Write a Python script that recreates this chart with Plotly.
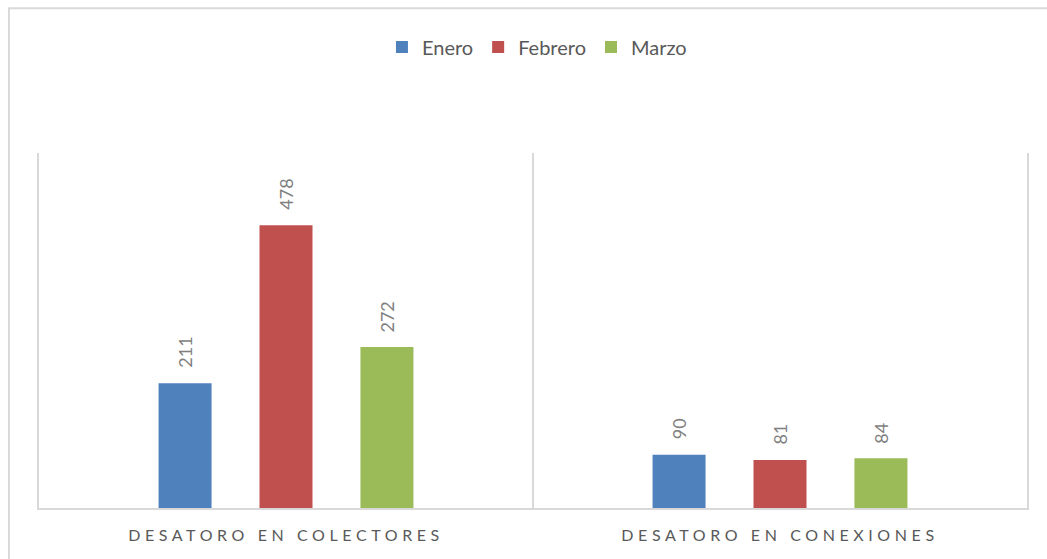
import plotly.graph_objects as go

# Categories and monthly counts
categorias = ["DESATORO EN COLECTORES", "DESATORO EN CONEXIONES"]
meses = ["Enero", "Febrero", "Marzo"]
enero = [211, 90]
febrero = [478, 81]
marzo = [272, 84]
valores = [enero, febrero, marzo]
colores = ["#4F81BD", "#C0504D", "#9BBB59"]

BARGAP = 0.387
BARGROUPGAP = 0.475
FONT = "Lato"
LINE = "#D9D9D9"

fig = go.Figure()
for mes, vals, col in zip(meses, valores, colores):
    fig.add_trace(go.Bar(
        name=mes, x=categorias, y=vals,
        marker=dict(color=col, line=dict(width=0)),
        hoverinfo="x+y+name",
    ))

# Rotated value labels above each bar, placed at each bar's group offset
n = len(meses)
slot = (1 - BARGAP) / n
annotations = []
for i, vals in enumerate(valores):
    for j, v in enumerate(vals):
        annotations.append(dict(
            x=j + (i - (n - 1) / 2) * slot, y=v, xref="x", yref="y",
            text=str(v), showarrow=False, textangle=-90,
            yanchor="bottom", xanchor="center", yshift=13,
            font=dict(family=FONT, size=18, color="#7F7F7F"),
        ))

fig.update_layout(
    width=1047, height=559,
    margin=dict(l=39, r=20, t=153, b=51),
    paper_bgcolor="white", plot_bgcolor="white",
    barmode="group", bargap=BARGAP, bargroupgap=BARGROUPGAP,
    showlegend=True,
    legend=dict(
        orientation="h", x=0.504, xanchor="center", y=1.2986, yanchor="middle",
        font=dict(family=FONT, size=20, color="#595959"),
        itemclick=False, itemdoubleclick=False,
    ),
    xaxis=dict(
        type="category", tickson="boundaries",
        showgrid=True, gridcolor=LINE, gridwidth=2,
        showline=True, linecolor=LINE, linewidth=2,
        ticks="", ticklabelstandoff=12,
        tickfont=dict(family=FONT, size=16, color="#595959"),
        fixedrange=True,
    ),
    yaxis=dict(
        range=[0, 600], showgrid=False, zeroline=False,
        showline=True, mirror=True, linecolor=LINE, linewidth=2,
        showticklabels=False, ticks="", fixedrange=True,
    ),
    annotations=annotations,
    shapes=[dict(
        type="rect", xref="paper", yref="paper",
        x0=-0.0304, x1=1.2, y0=-0.3, y1=1.408,
        line=dict(color=LINE, width=2), fillcolor="rgba(0,0,0,0)",
        layer="above",
    )],
)

# Widen the spacing between letters of the category labels
post = """
var gd = document.getElementById('{plot_id}');
gd.querySelectorAll('.xtick text').forEach(function(t){ t.style.letterSpacing = '4.6px'; });
"""

fig.write_html("out.html", post_script=post, config={"displayModeBar": False})
